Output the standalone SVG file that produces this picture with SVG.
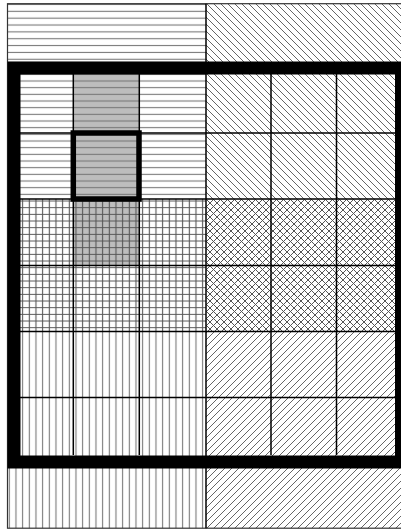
<svg xmlns="http://www.w3.org/2000/svg" width="401" height="532" viewBox="0 0 401 532">
  <defs>
    <pattern id="hzTop" patternUnits="userSpaceOnUse" x="0" y="7.9" width="20" height="6.85">
      <path d="M0,3.42 H20" stroke="#777" stroke-width="1.1"/>
    </pattern>
    <pattern id="hz" patternUnits="userSpaceOnUse" x="0" y="4.33" width="20" height="6.667">
      <path d="M0,3.33 H20" stroke="#777" stroke-width="1.1"/>
    </pattern>
    <pattern id="vt" patternUnits="userSpaceOnUse" x="5.97" y="0" width="6.667" height="20">
      <path d="M3.33,0 V20" stroke="#777" stroke-width="1.1"/>
    </pattern>
    <pattern id="grid" patternUnits="userSpaceOnUse" x="5.97" y="4.33" width="6.667" height="6.667">
      <path d="M0,3.33 H6.667 M3.33,0 V6.667" stroke="#555" stroke-width="1.1"/>
    </pattern>
    <pattern id="bs" patternUnits="userSpaceOnUse" x="0" y="0" width="7" height="7">
      <path d="M-1,-1 L8,8 M-1,6 L1,8 M6,-1 L8,1" stroke="#666" stroke-width="1"/>
    </pattern>
    <pattern id="fs" patternUnits="userSpaceOnUse" x="0" y="0" width="7" height="7">
      <path d="M-1,8 L8,-1 M-1,1 L1,-1 M6,8 L8,6" stroke="#666" stroke-width="1"/>
    </pattern>
    <pattern id="xh" patternUnits="userSpaceOnUse" x="0" y="0" width="7" height="7">
      <path d="M-1,-1 L8,8 M-1,6 L1,8 M6,-1 L8,1 M-1,8 L8,-1 M-1,1 L1,-1 M6,8 L8,6" stroke="#555" stroke-width="1"/>
    </pattern>
  </defs>
  <style>
    .grid { stroke: #000; stroke-width: 1.5; fill: none; }
    .frame { stroke: #000; stroke-width: 13; fill: none; }
    .outer { stroke: #333; stroke-width: 1.2; fill: none; }
  </style>
  <rect x="0" y="0" width="401" height="532" fill="#fff"/>

  <!-- gray cells -->
  <rect id="gray-cells" x="73.3" y="68" width="66" height="197.5" fill="#bdbdbd"/>

  <!-- hatched regions -->
  <g id="hatch">
    <rect x="7.5" y="3.7" width="198.5" height="58" fill="url(#hzTop)"/>
    <rect x="7.5" y="61.7" width="198.5" height="137.3" fill="url(#hz)"/>
    <rect x="7.5" y="199" width="198.5" height="132.5" fill="url(#grid)"/>
    <rect x="7.5" y="331.5" width="198.5" height="196.7" fill="url(#vt)"/>
    <rect x="206" y="3.7" width="200" height="195.3" fill="url(#bs)"/>
    <rect x="206" y="199" width="200" height="132.5" fill="url(#xh)"/>
    <rect x="206" y="331.5" width="200" height="196.7" fill="url(#fs)"/>
  </g>

  <!-- outer border -->
  <rect id="outer" class="outer" x="7.5" y="3.7" width="420" height="524.5"/>

  <!-- grid lines -->
  <g id="connectors">
    <path class="grid" d="M20,133 H395 M20,199 H395 M20,265.5 H395 M20,331.5 H395 M20,397.5 H395"/>
    <path class="grid" d="M73.3,74 V455 M139.3,74 V455 M271,74 V455 M336.5,74 V455"/>
    <path class="grid" d="M206,3.7 V528.2"/>
  </g>

  <!-- highlighted cell -->
  <g id="highlight">
    <rect x="73.3" y="133" width="65.7" height="66" fill="none" stroke="#000" stroke-width="5.5"/>
  </g>

  <!-- thick frame -->
  <g id="frame">
    <rect class="frame" x="14" y="68" width="387.5" height="394"/>
  </g>
</svg>
